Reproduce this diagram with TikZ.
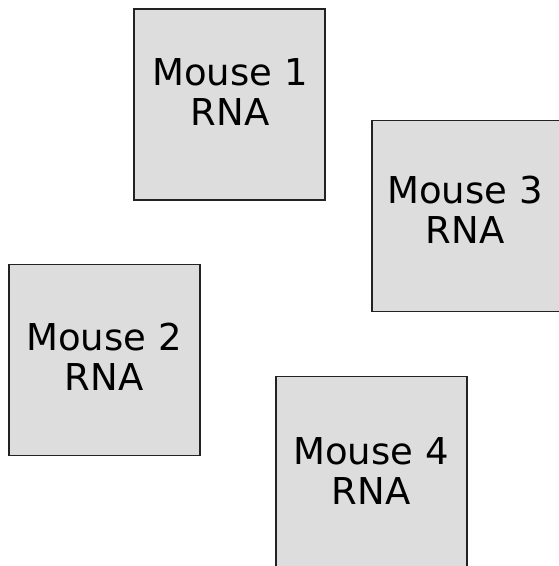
\documentclass[tikz,border=0pt]{standalone}
\usepackage{fontspec}
\setmainfont{DejaVu Sans}
\definecolor{boxfill}{RGB}{221,221,221}
\definecolor{boxline}{RGB}{34,34,34}
\tikzset{
  x=1pt, y=1pt,
  sample/.style={draw=boxline, line width=1.6pt, fill=boxfill,
    minimum width=191pt, minimum height=191pt, inner sep=0pt},
  label/.style={align=center, inner sep=0pt,
    font=\fontsize{37}{40}\selectfont}
}
\begin{document}
\begin{tikzpicture}
  \clip (0,0) rectangle (559,566);
  \fill[white] (0,0) rectangle (559,566);
  % sample boxes
  \node[sample] (m1) at (229.5,461.5) {};
  \node[sample] (m3) at (467.5,350) {};
  \node[sample] (m2) at (104.5,206) {};
  \node[sample] (m4) at (371.5,94) {};
  % labels
  \node[label] (t1) at (230,474) {Mouse 1\\RNA};
  \node[label] (t3) at (465,356) {Mouse 3\\RNA};
  \node[label] (t2) at (104,209.5) {Mouse 2\\RNA};
  \node[label] (t4) at (371,95) {Mouse 4\\RNA};
\end{tikzpicture}
\end{document}
